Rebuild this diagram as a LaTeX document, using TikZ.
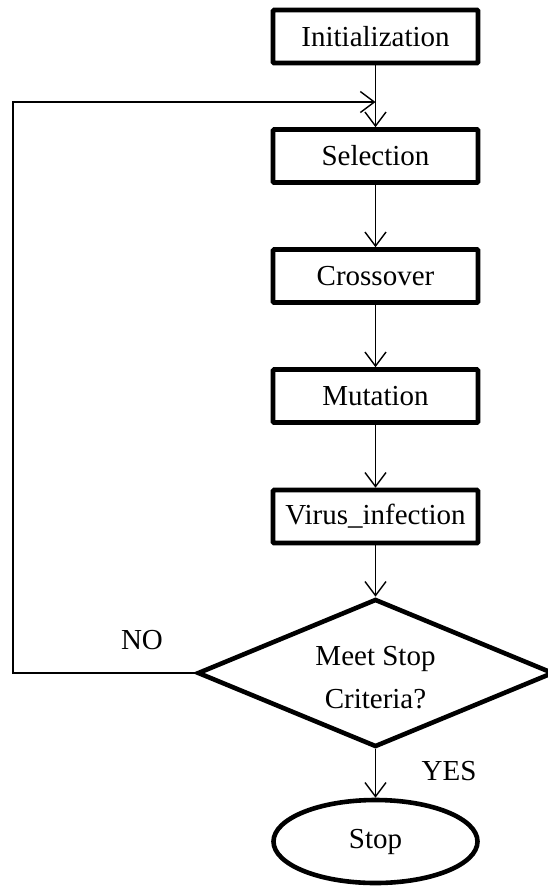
\documentclass[tikz,border=0pt]{standalone}
\usepackage{fontspec}
\setmainfont{Liberation Serif}
\usetikzlibrary{shapes.geometric,arrows.meta}
\begin{document}
\begin{tikzpicture}[x=1pt,y=-1pt,
  every node/.style={font=\fontsize{29}{43}\selectfont},
  procbox/.style={draw,line width=4.6pt,rectangle,minimum width=205pt,minimum height=53pt,inner sep=0pt,rounded corners=1pt},
  decision/.style={draw,line width=4.6pt,diamond,minimum width=356pt,minimum height=148pt,inner sep=0pt},
  terminal/.style={draw,line width=4.6pt,ellipse,minimum width=204pt,minimum height=83pt,inner sep=0pt},
  flow/.style={line width=1.4pt,-{Straight Barb[length=14pt,width=21pt,line width=1.4pt]}},
  lbl/.style={inner sep=0pt}]
  \useasboundingbox (0,0) rectangle (548,887);
  % process steps
  \node[procbox] (init) at (375.5,36.5) {Initialization};
  \node[procbox] (sel)  at (375.5,156)  {Selection};
  \node[procbox] (cross) at (375.5,276) {Crossover};
  \node[procbox] (mut)  at (375.5,396)  {Mutation};
  \node[procbox] (virus) at (375.5,516.5) {Virus\_infection};
  % decision diamond and its two-line question
  \node[decision] (check) at (375.5,673) {};
  \node[lbl,align=center] (question) at (375.5,678) {Meet Stop\\Criteria?};
  \node[terminal] (stop) at (375.5,841.5) {Stop};
  % loop return point on the first connector
  \coordinate (merge) at (375.5,102);
  \coordinate (corner) at (13,102);
  % connectors
  \draw[flow] (init) -- (sel);
  \draw[flow] (sel) -- (cross);
  \draw[flow] (cross) -- (mut);
  \draw[flow] (mut) -- (virus);
  \draw[flow] (virus) -- (check);
  \draw[flow] (check) -- (stop);
  \draw[flow] (check.west) -| (corner) -- (merge);
  % branch labels
  \node[lbl] (no) at (142,640) {NO};
  \node[lbl] (yes) at (449,771) {YES};
\end{tikzpicture}
\end{document}
